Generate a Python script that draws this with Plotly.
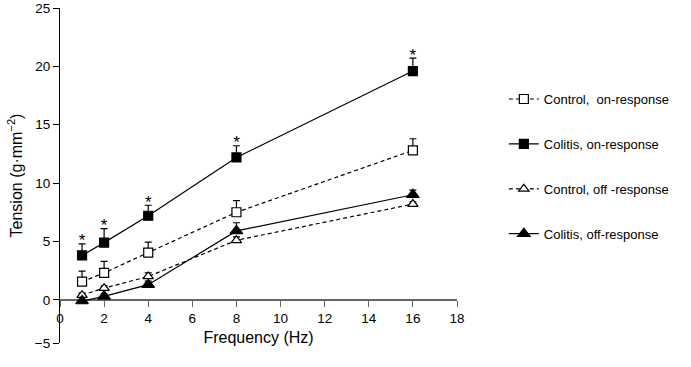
import plotly.graph_objects as go

freq = [1, 2, 4, 8, 16]
control_on = [1.55, 2.3, 4.05, 7.5, 12.8]
control_on_err = [0.9, 1.0, 0.9, 1.0, 1.0]
colitis_on = [3.8, 4.9, 7.2, 12.2, 19.6]
colitis_on_err = [1.0, 1.2, 0.9, 1.0, 1.1]
control_off = [0.4, 1.0, 2.0, 5.1, 8.2]
control_off_err = [0.2, 0.2, 0.3, 0.3, 0.2]
colitis_off = [-0.1, 0.3, 1.3, 5.9, 9.0]
colitis_off_err = [0.1, 0.2, 0.3, 0.7, 0.4]
star_freq = [1, 2, 4, 8, 16]

# y axis in the reference is broken below zero: the "−5" tick sits closer to 0
y_tickvals = [-3.7, 0, 5, 10, 15, 20, 25]
y_ticktext = ["−5", "0", "5", "10", "15", "20", "25"]
x_tickvals = [0, 2, 4, 6, 8, 10, 12, 14, 16, 18]

names = ["Control,  on-response", "Colitis, on-response",
         "Control, off -response", "Colitis, off-response"]

fig = go.Figure()

def add(name, y, err, symbol, fill, dash, size, group):
    fig.add_trace(go.Scatter(
        x=freq, y=y, name=name, mode="lines+markers",
        legendgroup=group,
        line=dict(color="black", width=1.2, dash=dash),
        marker=dict(symbol=symbol, size=size, color=fill,
                    line=dict(color="black", width=1.2)),
        error_y=dict(type="data", array=err, arrayminus=[0]*len(err), symmetric=False,
                     color="black", thickness=1.2, width=3.5),
    ))

add(names[0], control_on, control_on_err, "square", "white", "4px,3px", 9, "a")
add(names[1], colitis_on, colitis_on_err, "square", "black", "solid", 9, "b")
add(names[2], control_off, control_off_err, "triangle-up", "white", "4px,3px", 9, "c")
add(names[3], colitis_off, colitis_off_err, "triangle-up", "black", "solid", 11, "d")

star_y = [v + e + 0.15 for v, e in zip(colitis_on, colitis_on_err)]
fig.add_trace(go.Scatter(
    x=star_freq, y=star_y, mode="text", text=["*"] * len(star_freq),
    textposition="middle center", textfont=dict(size=17, color="black", family="Liberation Sans"),
    showlegend=False, hoverinfo="skip"))

fig.update_layout(
    width=691, height=367,
    margin=dict(l=60, r=234, t=8, b=24),
    paper_bgcolor="white", plot_bgcolor="white",
    font=dict(family="Liberation Sans, Arial, sans-serif", size=13, color="black"),
    showlegend=True,
    legend=dict(x=1.118, y=0.773, xanchor="left", yanchor="top",
                font=dict(size=13), tracegroupgap=25,
                bgcolor="rgba(0,0,0,0)", itemwidth=30),
    xaxis=dict(range=[0, 18], tickvals=x_tickvals, showgrid=False, zeroline=False,
               showline=True, linecolor="#666666", linewidth=1.5,
               ticks="outside", ticklen=6, tickcolor="#666666",
               anchor="free", position=3.7/28.7, layer="below traces",
               automargin=False,
               title=dict(text="Frequency (Hz)", standoff=6),
               tickfont=dict(size=13.5)),
    yaxis=dict(range=[-3.7, 25], tickvals=y_tickvals, ticktext=y_ticktext,
               showgrid=False, zeroline=False,
               showline=True, linecolor="black", linewidth=1.2,
               ticks="outside", ticklen=6, tickcolor="black",
               automargin=False,
               title=dict(text="Tension (g·mm<sup>−2</sup>)", standoff=8),
               tickfont=dict(size=13.5)),
)

fig.write_html("out.html", config={"displayModeBar": False},
               post_script="document.body.style.margin='0';")
